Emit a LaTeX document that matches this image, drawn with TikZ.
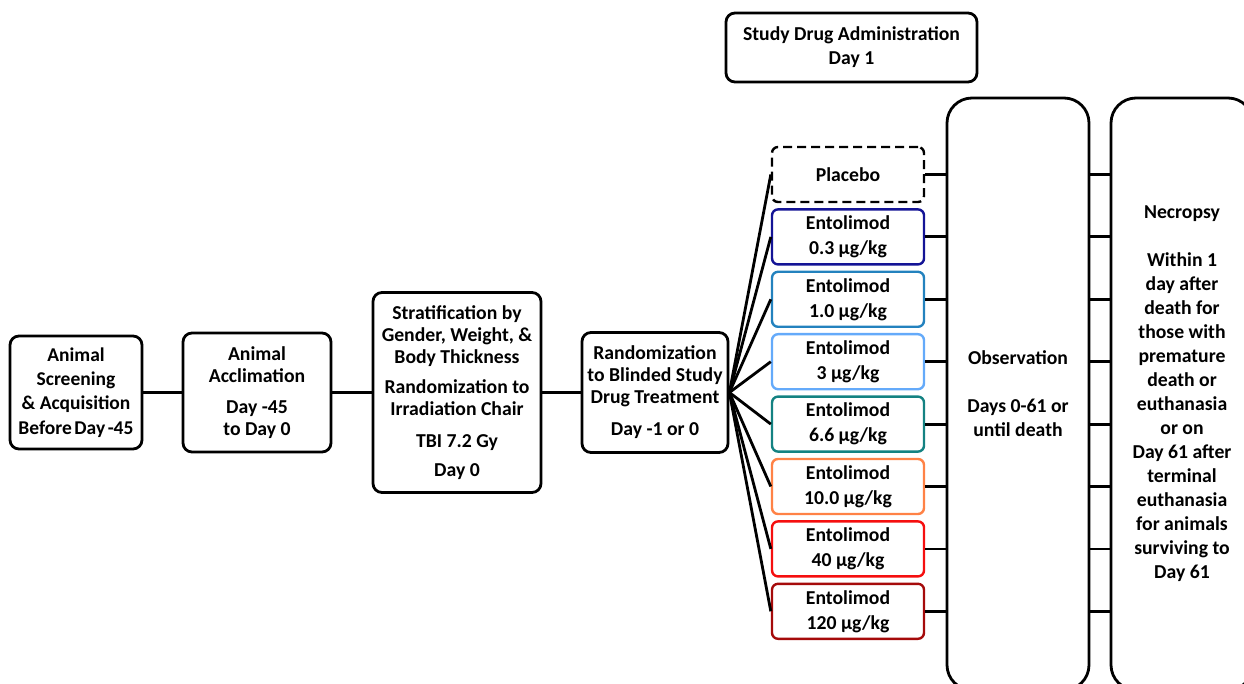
\documentclass[tikz,border=0pt]{standalone}
\usepackage{fontspec}
\setmainfont{Carlito}
\usetikzlibrary{positioning}

\definecolor{dosea}{RGB}{20,20,150}
\definecolor{doseb}{RGB}{35,130,190}
\definecolor{dosec}{RGB}{100,170,250}
\definecolor{dosed}{RGB}{20,130,130}
\definecolor{dosee}{RGB}{255,130,70}
\definecolor{dosef}{RGB}{245,15,15}
\definecolor{doseg}{RGB}{165,10,10}

\begin{document}
\begin{tikzpicture}[
  x=1pt, y=-1pt,
  font=\bfseries\fontsize{19.7}{22}\selectfont,
  box/.style={draw=black, line width=2.8pt, rounded corners=9pt, align=center,
              inner sep=0pt, fill=white},
  dose/.style={box, line width=2.4pt, rounded corners=6pt, minimum width=152pt,
               minimum height=55pt, font=\bfseries\fontsize{19.7}{25}\selectfont},
  tall/.style={box, rounded corners=25pt, minimum width=142pt, minimum height=592pt,
               font=\bfseries\fontsize{19.7}{24}\selectfont},
  link/.style={draw=black, line width=2.8pt},
  node distance=5pt,
]
\useasboundingbox (0,0) rectangle (1244,684);
\clip (0,0) rectangle (1244,684);

% ---- timeline before dosing ----
\node[box, minimum width=132pt, minimum height=113pt,
      font=\bfseries\fontsize{19.5}{24.3}\selectfont] (screen) at (76,392.5)
  {Animal\\Screening\\\& Acquisition\\Before\hspace{2.5pt}Day\hspace{2.5pt}-45};
\node[box, minimum width=148pt, minimum height=119pt, right=38.2pt of screen] (acclim)
  {Animal\\Acclimation\\[9pt]Day -45\\to Day 0};
\node[box, minimum width=168pt, minimum height=200pt, right=39.2pt of acclim] (strat)
  {Stratification by\\Gender, Weight, \&\\Body Thickness\\[8pt]
   Randomization to\\Irradiation Chair\\[10pt]TBI 7.2 Gy\\[7pt]Day 0};
\node[box, minimum width=146pt, minimum height=120pt, right=38.2pt of strat] (rand)
  {Randomization\\to Blinded Study\\Drug Treatment\\[10pt]Day -1 or 0};

% ---- dosing header ----
\node[box, minimum width=251pt, minimum height=69pt,
      font=\bfseries\fontsize{19.7}{24}\selectfont] (admin) at (851.5,47.5)
  {Study Drug Administration\\Day 1};

% ---- treatment groups ----
\node[dose, dashed, dash pattern=on 9pt off 5pt] (placebo) at (848,174.5) {Placebo};
\node[dose, draw=dosea, below=of placebo] (ga) {Entolimod\\0.3 μg/kg};
\node[dose, draw=doseb, below=of ga] (gb) {Entolimod\\1.0 μg/kg};
\node[dose, draw=dosec, below=of gb] (gc) {Entolimod\\3 μg/kg};
\node[dose, draw=dosed, below=of gc] (gd) {Entolimod\\6.6 μg/kg};
\node[dose, draw=dosee, below=of gd] (ge) {Entolimod\\10.0 μg/kg};
\node[dose, draw=dosef, below=of ge] (gf) {Entolimod\\40 μg/kg};
\node[dose, draw=doseg, below=of gf] (gg) {Entolimod\\120 μg/kg};

% ---- follow-up ----
\node[tall] (obs) at (1018,394)
  {Observation\\[24pt]Days 0-61 or\\until death};
\node[tall, right=19.2pt of obs] (necro)
  {Necropsy\\[24pt]Within 1\\day after\\death for\\those with\\premature\\death or\\euthanasia\\or on\\
   Day 61 after\\terminal\\euthanasia\\for animals\\surviving to\\Day 61};

% ---- connectors ----
\draw[link] (screen) -- (acclim);
\draw[link] (acclim) -- (strat);
\draw[link] (strat) -- (rand);
\foreach \g in {placebo,ga,gb,gc,gd,ge,gf,gg}{
  \draw[link] (rand.east) -- (\g.west);
  \draw[link] (\g.east) -- (obs.west |- \g.east);
  \draw[link] (obs.east |- \g.east) -- (necro.west |- \g.east);
}
\end{tikzpicture}
\end{document}
